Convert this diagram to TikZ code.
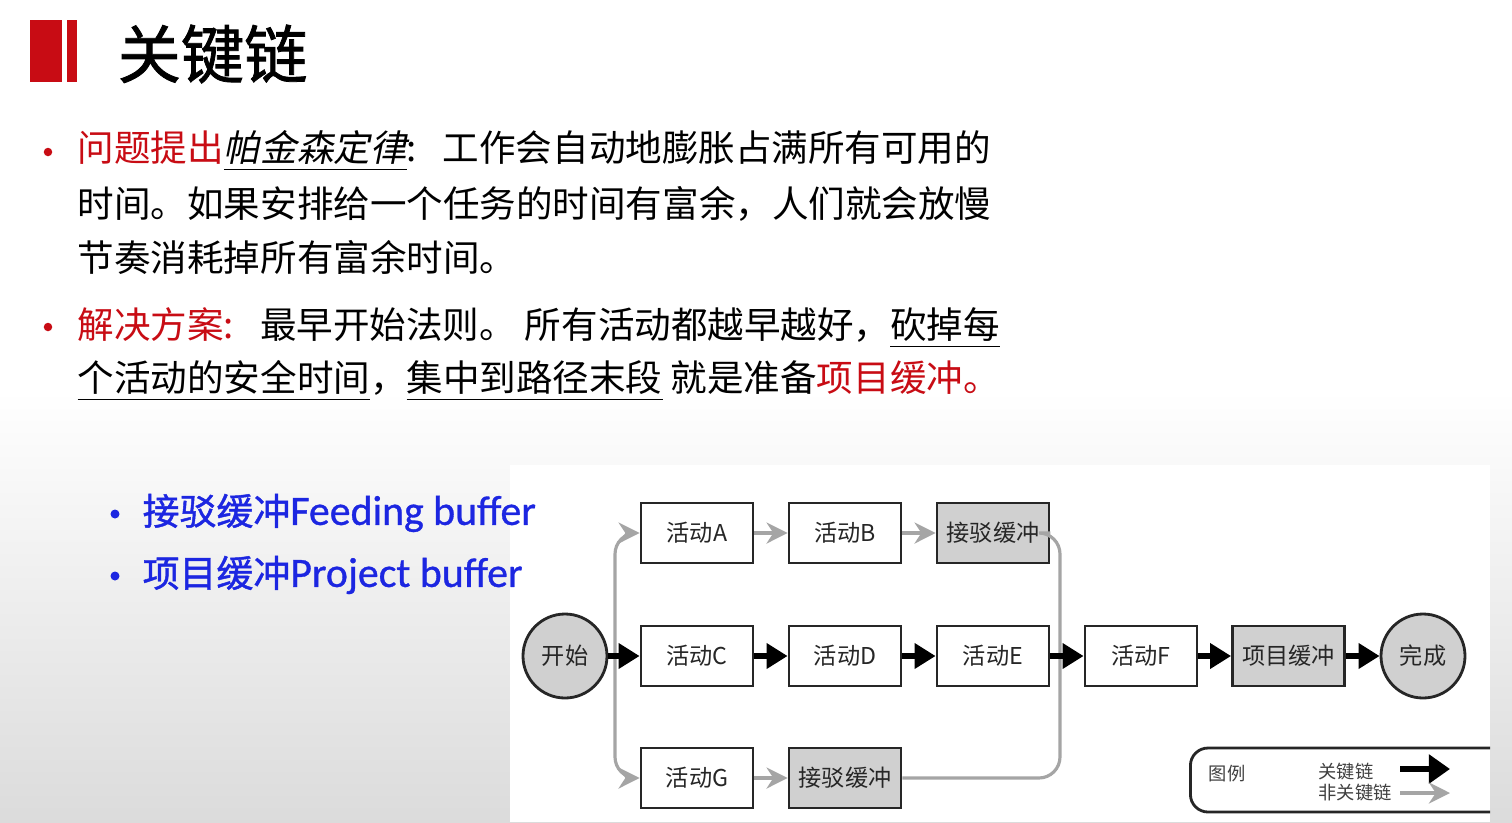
\documentclass[tikz,border=0pt]{standalone}
\usepackage{fontspec}
\setmainfont{Noto Sans CJK SC}
\newfontfamily\slantcjk[FakeSlant=0.2]{Noto Sans CJK SC}
\newfontfamily\heavycjk[FakeBold=1.2]{Noto Sans CJK SC}
\newfontfamily\latinbuf[FakeBold=0.8]{Carlito}
\usepackage{xcolor}
\usepackage{tikz}
\usetikzlibrary{shapes,arrows.meta}
\definecolor{slidered}{RGB}{200,12,20}
\definecolor{bufblue}{RGB}{28,38,225}
\definecolor{boxgray}{RGB}{208,208,208}
\definecolor{linegray}{RGB}{165,165,165}

\begin{document}
\begin{tikzpicture}[x=1cm, y=-1cm,
  body/.style = {anchor=west, inner sep=0pt, font=\fontsize{10.4pt}{12pt}\selectfont},
  bullet/.style = {circle, fill=slidered, inner sep=0pt, minimum size=0.085cm},
  bluebullet/.style = {circle, fill=bufblue, inner sep=0pt, minimum size=0.09cm},
  bluetext/.style = {anchor=west, inner sep=0pt, text=bufblue, font=\heavycjk\fontsize{10.5pt}{12pt}\selectfont},
  act/.style = {draw=black!85, line width=0.8pt, minimum width=1.12cm, minimum height=0.60cm,
                inner sep=0pt, text=black!85, font=\fontsize{6.6pt}{7pt}\selectfont},
  buf/.style = {act, fill=boxgray},
  ev/.style = {circle, draw=black!85, line width=0.8pt, fill=boxgray, minimum size=0.84cm,
               inner sep=0pt, text=black!85, font=\fontsize{6.6pt}{7pt}\selectfont},
  crit/.style = {line width=1.5pt, -{Triangle[length=6pt, width=7pt]}},
  noncrit/.style = {linegray, line width=0.9pt, -{Stealth[length=6pt, width=6pt]}},
  legtext/.style = {inner sep=0pt, text=black!75, font=\fontsize{5.2pt}{5.6pt}\selectfont}]
\useasboundingbox (0,0) rectangle (15.12,8.22);
\fill[white] (0,0) rectangle (15.12,8.22);
\shade[top color=white, bottom color=black!14] (0,3.9) rectangle (15.12,8.22);

\fill[slidered] (0.30,0.20) rectangle (0.62,0.82);
\fill[slidered] (0.67,0.20) rectangle (0.77,0.82);
\node[anchor=west, inner sep=0pt, font=\heavycjk\fontsize{18pt}{20pt}\selectfont] (title) at (1.17,0.54) {关键链};

\node[bullet] (b1) at (0.48,1.52) {};
\node[body] (l1) at (0.77,1.51) {\textcolor{slidered}{问题提出}\underline{\slantcjk 帕金森定律}:\hspace{0.26cm}工作会自动地膨胀占满所有可用的};
\node[body] (l2) at (0.77,2.04) {时间。如果安排给一个任务的时间有富余，人们就会放慢};
\node[body] (l3) at (0.77,2.57) {节奏消耗掉所有富余时间。};
\node[bullet] (b2) at (0.48,3.27) {};
\node[body] (l4) at (0.77,3.28) {\textcolor{slidered}{解决方案:}\hspace{0.26cm}最早开始法则。\hspace{0.09cm}所有活动都越早越好，\underline{砍掉每}};
\node[body] (l5) at (0.77,3.81) {\underline{个活动的安全时间}，\underline{集中到路径末段}\ 就是准备\textcolor{slidered}{项目缓冲。}};

\fill[white] (5.10,4.65) rectangle (14.90,8.22);

\node[bluebullet] (fbdot) at (1.15,5.14) {};
\node[bluetext] (fb) at (1.42,5.13) {接驳缓冲{\latinbuf\fontsize{11.9pt}{12pt}\selectfont Feeding buffer}};
\node[bluebullet] (pbdot) at (1.15,5.76) {};
\node[bluetext] (pbf) at (1.42,5.75) {项目缓冲{\latinbuf\fontsize{11.9pt}{12pt}\selectfont Project buffer}};

\node[ev] (start) at (5.65,6.56) {开始};
\node[act] (A) at (6.97,5.33) {活动A};
\node[act] (B) at (8.45,5.33) {活动B};
\node[buf] (fb1) at (9.93,5.33) {接驳缓冲};
\node[act] (C) at (6.97,6.56) {活动C};
\node[act] (D) at (8.45,6.56) {活动D};
\node[act] (E) at (9.93,6.56) {活动E};
\node[act] (F) at (11.41,6.56) {活动F};
\node[buf] (pb) at (12.885,6.56) {项目缓冲};
\node[ev] (end) at (14.23,6.56) {完成};
\node[act] (G) at (6.97,7.78) {活动G};
\node[buf] (fb2) at (8.45,7.78) {接驳缓冲};

\coordinate (split) at (6.15,6.56);
\coordinate (join) at (10.60,6.56);
\draw[noncrit, rounded corners=6pt] (split) |- (A);
\draw[noncrit, rounded corners=6pt] (split) |- (G);
\draw[noncrit] (A) -- (B);
\draw[noncrit] (B) -- (fb1);
\draw[noncrit] (G) -- (fb2);
\draw[linegray, line width=0.9pt, rounded corners=6pt] (fb1.east) -| (join) |- (fb2.east);
\foreach \a/\b in {start/C, C/D, D/E, E/F, F/pb, pb/end}
\draw[crit] (\a) -- (\b);

\begin{scope}
\clip (5.10,4.65) rectangle (14.90,8.22);
\node[draw=black!85, line width=0.8pt, rounded corners=5pt, minimum width=3.40cm, minimum height=0.64cm,
      anchor=west] (legend) at (11.89,7.80) {};
\end{scope}
\node[legtext] (legname) at (12.27,7.74) {图例};
\node[legtext] (critname) at (13.46,7.72) {关键链};
\node[legtext] (noncritname) at (13.55,7.93) {非关键链};
\coordinate (k1) at (14.00,7.69);
\coordinate (k2) at (14.50,7.69);
\coordinate (n1) at (14.00,7.93);
\coordinate (n2) at (14.50,7.93);
\draw[line width=1.8pt, -{Triangle[length=6pt, width=8pt]}] (k1) -- (k2);
\draw[noncrit, line width=1.4pt] (n1) -- (n2);
\end{tikzpicture}
\end{document}
